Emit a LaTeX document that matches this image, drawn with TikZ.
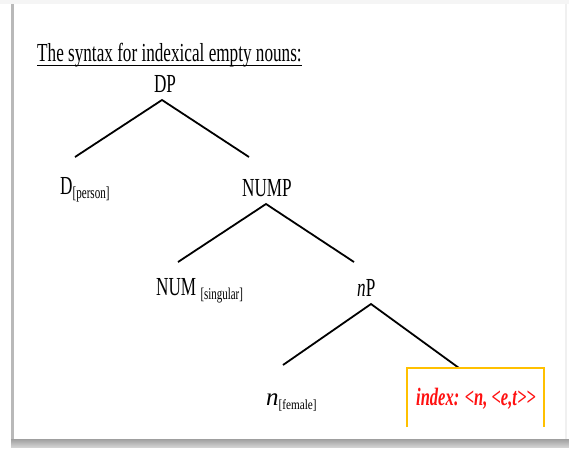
\documentclass[tikz,border=0pt]{standalone}
\usepackage{fontspec}
\setmainfont{Liberation Serif}[FakeStretch=0.66]
\newfontfamily\subfont{Liberation Serif}[FakeStretch=0.8]
\newfontfamily\plainserif{Liberation Serif}
\definecolor{boxgold}{HTML}{FFC000}
\definecolor{idxred}{HTML}{FF1010}
\begin{document}
\begin{tikzpicture}[x=1pt,y=-1pt,
  lbl/.style={anchor=base west,inner sep=0pt,font=\fontsize{26}{28}\selectfont},
  branch/.style={line width=1.8pt,black}]
\useasboundingbox (0,0) rectangle (569,450);
\fill[white] (0,0) rectangle (569,450);
% slide frame with its shadow
\fill[gray!8] (0,0) rectangle (569,4);
\fill[gray!55] (11,4) rectangle (13.5,446);
\shade[top color=gray!75,bottom color=gray!35] (11,439) rectangle (569,447);
\fill[gray!12] (565,4) rectangle (566.5,439);

% heading
\node[lbl] (title) at (37,61) {The syntax for indexical empty nouns:};
\draw[line width=1pt] ([yshift=-4pt]title.base west) -- ([yshift=-4pt]title.base east);

% tree labels
\node[lbl,anchor=base] (dp) at (165,92) {DP};
\node[lbl] (d) at (60,194) {D\raisebox{-4pt}{\fontsize{16.8}{18}\selectfont[person]}};
\node[lbl] (nump) at (242,196) {NUMP};
\node[lbl] (num) at (156,295) {NUM\,\raisebox{-4pt}{\fontsize{16.5}{18}\selectfont[singular]}};
\node[lbl] (np) at (357,296) {\textit{n}P};
\node[lbl] (nf) at (266,405) {{\plainserif\fontsize{25}{27}\selectfont\itshape n}\raisebox{-4pt}{\subfont\fontsize{14}{15}\selectfont[female]}};
\node[lbl,anchor=base,text=idxred,font=\fontsize{25}{27}\selectfont\bfseries\itshape] (idx) at (476,405) {index: <n, <e,t>\kern0pt>};

% branch points
\coordinate (dpA) at (162,100);
\coordinate (dpL) at (75,157);
\coordinate (dpR) at (249,157);
\coordinate (numpA) at (266,204);
\coordinate (numpL) at (178,262);
\coordinate (numpR) at (354,262);
\coordinate (npA) at (371,304);
\coordinate (npL) at (283,365);
\coordinate (npR) at (459,368);

\draw[branch] (dpL) -- (dpA) -- (dpR);
\draw[branch] (numpL) -- (numpA) -- (numpR);
\draw[branch] (npL) -- (npA) -- (npR);

% open box round the index
\draw[boxgold,line width=2pt] (407,427) -- (407,368) -- (544,368) -- (544,427);
\end{tikzpicture}
\end{document}
